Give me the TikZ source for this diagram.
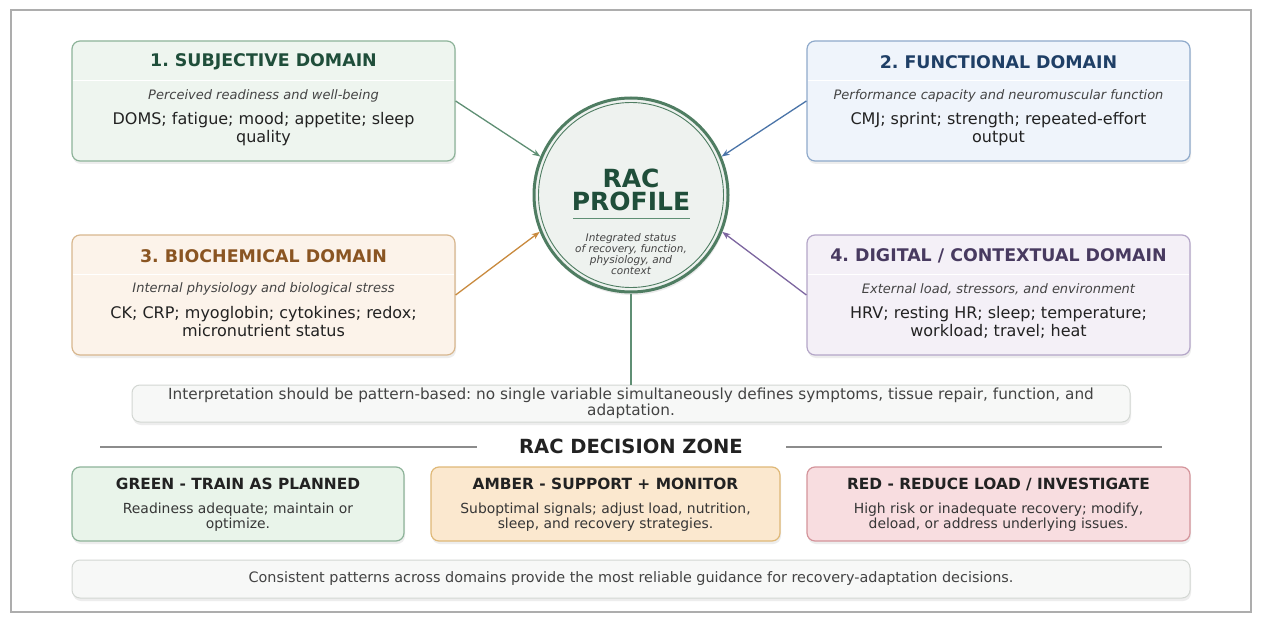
\documentclass[tikz,border=0pt]{standalone}
\usepackage{fontspec}
\setmainfont{DejaVu Sans}
\usetikzlibrary{shadows,arrows.meta,calc}
\frenchspacing
\definecolor{gF}{HTML}{EEF5EF}\definecolor{gB}{HTML}{8DB399}\definecolor{gT}{HTML}{1F4E3A}\definecolor{gA}{HTML}{5F8F74}
\definecolor{bF}{HTML}{EFF4FB}\definecolor{bB}{HTML}{8FAACB}\definecolor{bT}{HTML}{1F3F66}\definecolor{bA}{HTML}{4A74A8}
\definecolor{oF}{HTML}{FCF3EA}\definecolor{oB}{HTML}{D8B78E}\definecolor{oT}{HTML}{8A5522}\definecolor{oA}{HTML}{C98A3E}
\definecolor{pF}{HTML}{F4F0F7}\definecolor{pB}{HTML}{B4A6C8}\definecolor{pT}{HTML}{483A60}\definecolor{pA}{HTML}{7D66A0}
\definecolor{cF}{HTML}{EEF2EF}\definecolor{cB}{HTML}{4F7D62}
\definecolor{zgF}{HTML}{E9F4EA}\definecolor{zgB}{HTML}{8DB399}
\definecolor{zaF}{HTML}{FBE8CF}\definecolor{zaB}{HTML}{DFB877}
\definecolor{zrF}{HTML}{F8DDE0}\definecolor{zrB}{HTML}{D4949B}
\definecolor{nF}{HTML}{F7F8F7}\definecolor{nB}{HTML}{D3D7D3}
\definecolor{txt}{HTML}{222222}\definecolor{sub}{HTML}{444444}
\tikzset{
  card/.style={rounded corners=8pt, line width=1.2pt, inner sep=0pt,
    drop shadow={opacity=0.14, shadow xshift=1pt, shadow yshift=-3pt}},
  ttl/.style={font=\fontsize{17.4}{20}\selectfont\bfseries},
  subt/.style={font=\fontsize{13}{15}\selectfont\itshape, text=sub},
  bodyt/.style={font=\fontsize{16}{18}\selectfont, text=txt, align=center},
  zttl/.style={font=\fontsize{15.4}{18}\selectfont\bfseries, text=txt},
  zbody/.style={font=\fontsize{13.9}{15}\selectfont, text=sub!80!black, align=center},
  arr/.style={line width=1.3pt, -{Stealth[length=8pt,width=6pt]}},
  sep/.style={white, line width=1.6pt},
  rule/.style={black!45, line width=1.2pt}
}
\begin{document}
\begin{tikzpicture}[x=1pt,y=-1pt]
\useasboundingbox (0,0) rectangle (1261,623);
\fill[white] (0,0) rectangle (1261,623);
\draw[black!32, line width=1.4pt] (11,10) rectangle (1251,612);

% domain boxes
\node[card, draw=gB, fill=gF, minimum width=383pt, minimum height=120pt] (d1) at (263.5,101) {};
\node[card, draw=bB, fill=bF, minimum width=383pt, minimum height=120pt] (d2) at (998.5,101) {};
\node[card, draw=oB, fill=oF, minimum width=383pt, minimum height=120pt] (d3) at (263.5,295) {};
\node[card, draw=pB, fill=pF, minimum width=383pt, minimum height=120pt] (d4) at (998.5,295) {};
\draw[sep] ($(d1.north west)+(1.5,40)$) -- ($(d1.north east)+(-1.5,40)$);
\draw[sep] ($(d2.north west)+(1.5,40)$) -- ($(d2.north east)+(-1.5,40)$);
\draw[sep] ($(d3.north west)+(1.5,40)$) -- ($(d3.north east)+(-1.5,40)$);
\draw[sep] ($(d4.north west)+(1.5,40)$) -- ($(d4.north east)+(-1.5,40)$);

\node[ttl, text=gT] (t1) at (263.5,62) {1. SUBJECTIVE DOMAIN};
\node[subt] (s1) at (263.5,96) {Perceived readiness and well-being};
\node[bodyt] (b1) at (263.5,129) {DOMS; fatigue; mood; appetite; sleep\\quality};

\node[ttl, text=bT] (t2) at (998.5,62) {2. FUNCTIONAL DOMAIN};
\node[subt] (s2) at (998.5,96) {Performance capacity and neuromuscular function};
\node[bodyt] (b2) at (998.5,129) {CMJ; sprint; strength; repeated-effort\\output};

\node[ttl, text=oT] (t3) at (263.5,256) {3. BIOCHEMICAL DOMAIN};
\node[subt] (s3) at (263.5,289) {Internal physiology and biological stress};
\node[bodyt] (b3) at (263.5,322) {CK; CRP; myoglobin; cytokines; redox;\\micronutrient status};

\node[ttl, text=pT] (t4) at (998.5,256) {4. DIGITAL / CONTEXTUAL DOMAIN};
\node[subt] (s4) at (998.5,289) {External load, stressors, and environment};
\node[bodyt] (b4) at (998.5,322) {HRV; resting HR; sleep; temperature;\\workload; travel; heat};

% interpretation band
\node[card, draw=nB, fill=nF, line width=1pt, minimum width=998pt, minimum height=37pt] (interp) at (631,403.5) {};
\node[font=\fontsize{15.3}{16}\selectfont, text=txt!85, align=center] (interpT) at (631,403.5)
  {Interpretation should be pattern-based: no single variable simultaneously defines symptoms, tissue repair, function, and\\adaptation.};

% central circle
\node[circle, draw=cB, line width=3pt, fill=cF, minimum size=194pt, inner sep=0pt,
  drop shadow={opacity=0.16, shadow xshift=1pt, shadow yshift=-3pt}] (rac) at (631,195) {};
\draw[cB, line width=0.9pt] (rac.center) circle[radius=92.5];
\node[font=\fontsize{25}{23}\selectfont\bfseries, text=gT, align=center] (racT) at (631,189.5) {RAC\\PROFILE};
\draw[gA, line width=1pt] (573,218) -- (690,218);
\node[font=\fontsize{10.5}{11}\selectfont\itshape, text=sub, align=center] (racS) at (631,254.5)
  {Integrated status\\of recovery, function,\\physiology, and\\context};

% connectors
\draw[arr, gA] (d1.east) -- (rac.157);
\draw[arr, bA] (d2.west) -- (rac.23);
\draw[arr, oA] (d3.east) -- (rac.202);
\draw[arr, pA] (d4.west) -- (rac.338);
\draw[gA, line width=1.3pt] (rac.south) -- (interp.north);

% decision zone
\node[font=\fontsize{19.5}{22}\selectfont\bfseries, text=txt] (dz) at (631,446) {RAC DECISION ZONE};
\coordinate (dzL) at (100,447);
\coordinate (dzLe) at (477,447);
\coordinate (dzRs) at (786,447);
\coordinate (dzR) at (1162,447);
\draw[rule] (dzL) -- (dzLe);
\draw[rule] (dzRs) -- (dzR);

\node[card, draw=zgB, fill=zgF, minimum width=332pt, minimum height=74pt] (zg) at (238,504) {};
\node[card, draw=zaB, fill=zaF, minimum width=349pt, minimum height=74pt] (za) at (605.5,504) {};
\node[card, draw=zrB, fill=zrF, minimum width=383pt, minimum height=74pt] (zr) at (998.5,504) {};
\node[zttl] (zgT) at (238,484) {GREEN - TRAIN AS PLANNED};
\node[zbody] (zgS) at (238,517.5) {Readiness adequate; maintain or\\optimize.};
\node[zttl] (zaT) at (605.5,484) {AMBER - SUPPORT + MONITOR};
\node[zbody] (zaS) at (605.5,517.5) {Suboptimal signals; adjust load, nutrition,\\sleep, and recovery strategies.};
\node[zttl] (zrT) at (998.5,484) {RED - REDUCE LOAD / INVESTIGATE};
\node[zbody] (zrS) at (998.5,517.5) {High risk or inadequate recovery; modify,\\deload, or address underlying issues.};

% footer
\node[card, draw=nB, fill=nF, line width=1pt, minimum width=1118pt, minimum height=38pt] (foot) at (631,579) {};
\node[font=\fontsize{14.4}{16}\selectfont, text=txt!85] (footT) at (631,579)
  {Consistent patterns across domains provide the most reliable guidance for recovery-adaptation decisions.};
\end{tikzpicture}
\end{document}
